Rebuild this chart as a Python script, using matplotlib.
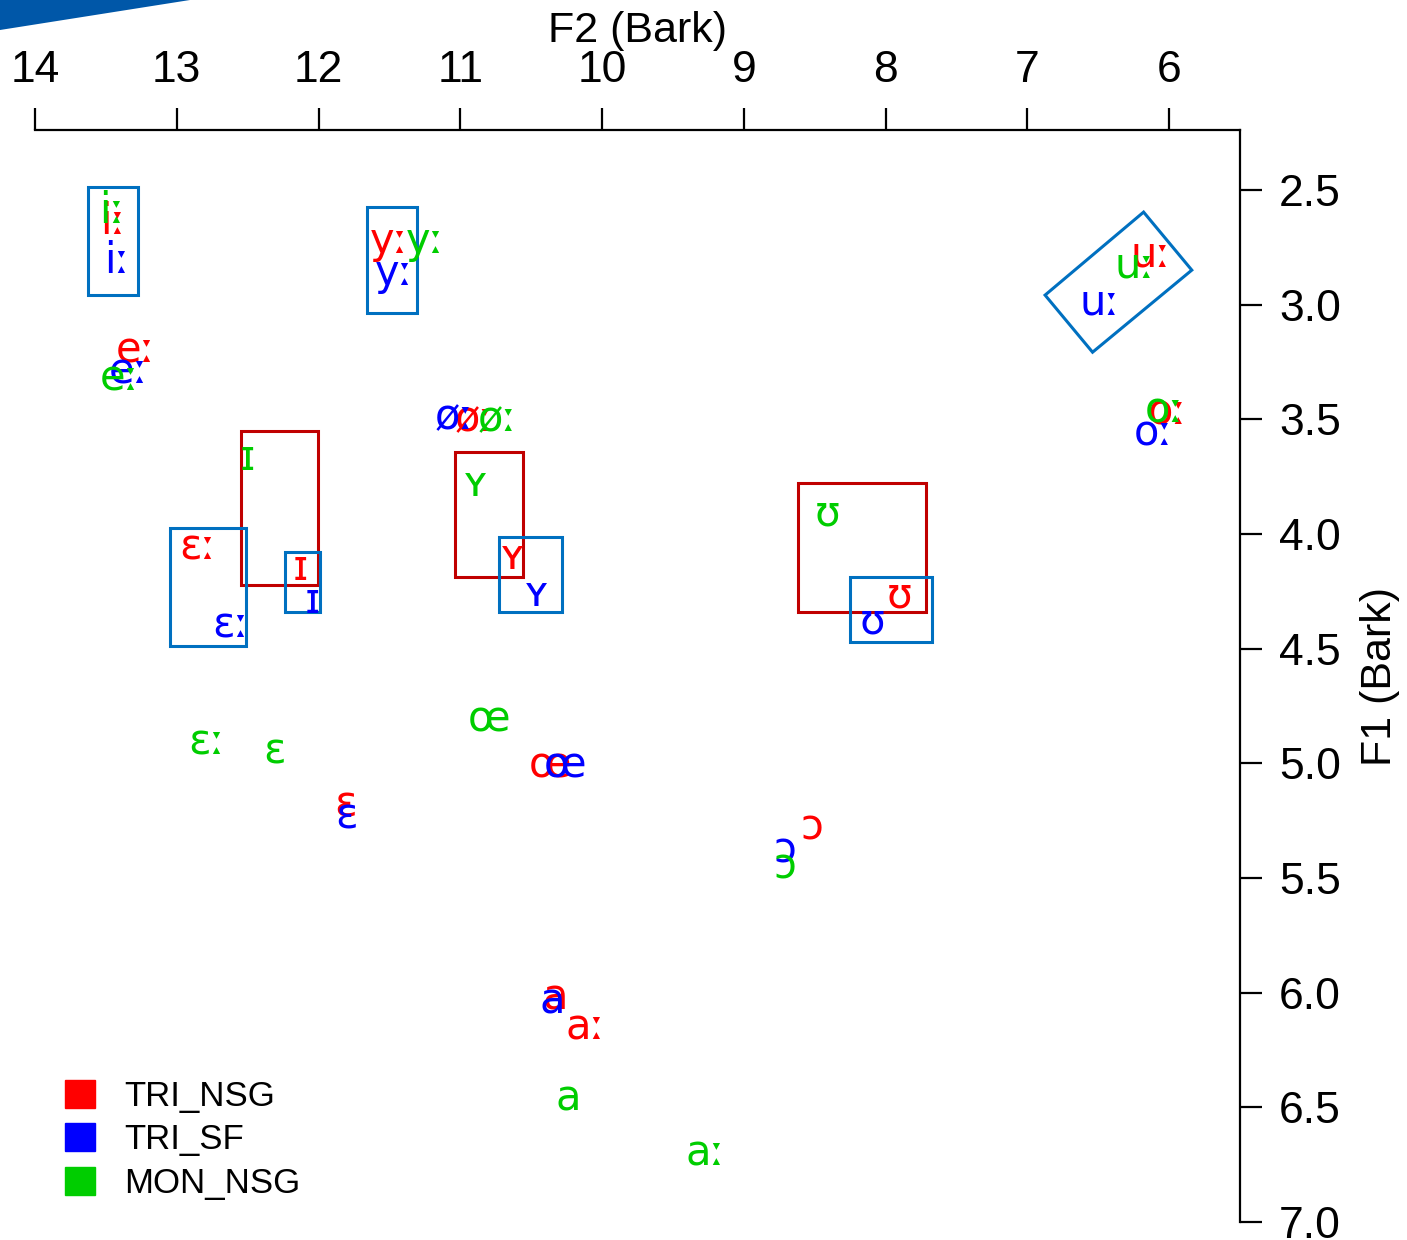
import matplotlib
matplotlib.use('Agg')
import matplotlib.pyplot as plt
from matplotlib.patches import Rectangle, Polygon, Patch
import numpy as np

plt.rcParams['font.family'] = ['Liberation Sans', 'DejaVu Sans']

# vowel labels and their (F2, F1) positions in Bark
red_lab = ['iː', 'eː', 'yː', 'uː', 'øː', 'oː', 'ɪ', 'ʏ', 'ʊ', 'ɛː', 'œ', 'ɛ', 'ɔ', 'a', 'aː']
red_f2 = [13.45, 13.29, 11.50, 6.13, 10.90, 6.01, 12.13, 10.63, 7.90, 12.85, 10.37, 11.81, 8.52, 10.33, 10.12]
red_f1 = [2.64, 3.20, 2.72, 2.78, 3.50, 3.47, 4.15, 4.10, 4.27, 4.06, 5.01, 5.18, 5.28, 6.02, 6.15]

blue_lab = ['iː', 'eː', 'yː', 'uː', 'øː', 'oː', 'ɪ', 'ʏ', 'ʊ', 'ɛː', 'œ', 'ɛ', 'ɔ', 'a']
blue_f2 = [13.42, 13.34, 11.47, 6.49, 11.04, 6.11, 12.04, 10.46, 8.09, 12.62, 10.26, 11.80, 8.71, 10.35]
blue_f1 = [2.81, 3.29, 2.86, 2.99, 3.49, 3.56, 4.29, 4.26, 4.38, 4.40, 5.01, 5.23, 5.38, 6.04]

green_lab = ['iː', 'eː', 'yː', 'uː', 'øː', 'oː', 'ɪ', 'ʏ', 'ʊ', 'ɛː', 'ɛ', 'œ', 'ɔ', 'a', 'aː']
green_f2 = [13.46, 13.40, 11.25, 6.24, 10.74, 6.03, 12.50, 10.89, 8.41, 12.79, 12.31, 10.80, 8.71, 10.24, 9.27]
green_f1 = [2.59, 3.32, 2.72, 2.83, 3.50, 3.46, 3.67, 3.78, 3.91, 4.91, 4.95, 4.81, 5.45, 6.46, 6.70]

groups = ['TRI_NSG', 'TRI_SF', 'MON_NSG']
colors = ['#ff0000', '#0000ff', '#00cd00']

# boxes: (F2 left, F2 right, F1 top, F1 bottom, colour)
boxes = [
    (13.626, 13.273, 2.487, 2.958, '#0070c0'),
    (11.658, 11.305, 2.574, 3.036, '#0070c0'),
    (12.547, 12.004, 3.551, 4.223, '#c00000'),
    (12.236, 11.989, 4.079, 4.340, '#0070c0'),
    (13.048, 12.511, 3.974, 4.489, '#0070c0'),
    (11.037, 10.557, 3.643, 4.188, '#c00000'),
    (10.727, 10.282, 4.013, 4.340, '#0070c0'),
    (8.617, 7.714, 3.778, 4.340, '#c00000'),
    (8.250, 7.672, 4.188, 4.471, '#0070c0'),
]
# tilted box around u:
u_box_f2 = [6.18, 5.84, 6.54, 6.875]
u_box_f1 = [2.596, 2.849, 3.207, 2.958]

fig = plt.figure(figsize=(14.07, 12.40), dpi=100)
ax = fig.add_axes([35/1407, 1-1222/1240, (1240-35)/1407, (1222-130)/1240])
ax.set_xlim(14, 5.5)
ax.set_ylim(7.0, 2.238)

for lab, xs, ys, c in [(red_lab, red_f2, red_f1, colors[0]),
                       (blue_lab, blue_f2, blue_f1, colors[1]),
                       (green_lab, green_f2, green_f1, colors[2])]:
    for l, x, y in zip(lab, xs, ys):
        ax.text(x, y, l, color=c, fontsize=30, ha='center', va='center',
                family=['DejaVu Sans'], clip_on=False)

for x0, x1, y0, y1, c in boxes:
    ax.add_patch(Rectangle((x0, y0), x1 - x0, y1 - y0, fill=False, ec=c, lw=2.2))
ax.add_patch(Polygon(np.column_stack([u_box_f2, u_box_f1]), closed=True,
                     fill=False, ec='#0070c0', lw=2.2))

ax.spines['left'].set_visible(False)
ax.spines['bottom'].set_visible(False)
ax.spines['top'].set_linewidth(1.6)
ax.spines['right'].set_linewidth(1.6)
ax.xaxis.set_ticks_position('top')
ax.xaxis.set_label_position('top')
ax.yaxis.set_ticks_position('right')
ax.yaxis.set_label_position('right')
ax.set_xticks([14, 13, 12, 11, 10, 9, 8, 7, 6])
ax.set_yticks([2.5, 3.0, 3.5, 4.0, 4.5, 5.0, 5.5, 6.0, 6.5, 7.0])
ax.tick_params(axis='both', length=16, width=1.6, labelsize=32, pad=12)
ax.tick_params(axis='y', pad=12)
ax.set_xlabel('F2 (Bark)', fontsize=31, labelpad=6)
ax.set_ylabel('F1 (Bark)', fontsize=31, labelpad=14)

handles = [Patch(facecolor=c, edgecolor=c) for c in colors]
ax.legend(handles, groups, loc='lower left', bbox_to_anchor=(34/1407, 9/1240),
          bbox_transform=fig.transFigure, frameon=False, fontsize=25,
          handlelength=0.85, handleheight=0.85, handletextpad=0.85, labelspacing=0.3)

# blue wedge in the top left corner
fig.patches.append(Polygon([[0, 1], [190/1407, 1], [0, 1-30/1240]], closed=True,
                           transform=fig.transFigure, fc='#0057a8', ec='none'))

plt.savefig('out.png', dpi=100)
